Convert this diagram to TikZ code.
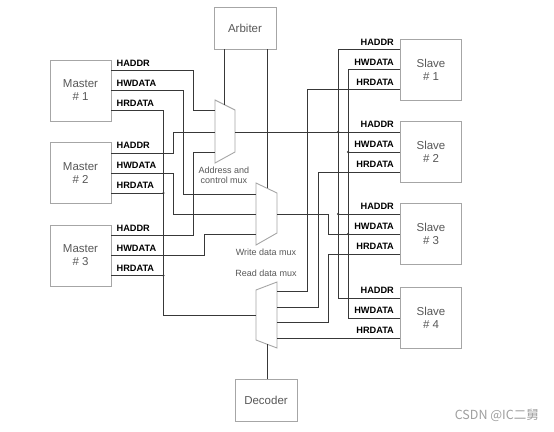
\documentclass[tikz,border=0pt]{standalone}
\usepackage{fontspec}
\setmainfont{Liberation Sans}
\newfontfamily\cjkfont{Noto Sans CJK SC}
\usepackage{xcolor}
\usepackage{tikz}
\usetikzlibrary{calc}
\definecolor{boxgray}{HTML}{A6A6A6}
\definecolor{wirecol}{HTML}{383838}
\definecolor{txtgray}{HTML}{585858}
\tikzset{
	unit/.style={draw=boxgray, line width=0.9pt, minimum width=61pt, minimum height=61pt, inner sep=0pt, text=txtgray, align=center, font=\fontsize{11.5}{13}\selectfont},
	ctrl/.style={unit, minimum width=62pt, minimum height=42pt},
	sig/.style={font=\fontsize{9.2}{10}\selectfont\bfseries, inner sep=0pt},
	muxbox/.style={draw=boxgray, line width=0.9pt, fill=white},
	muxlbl/.style={font=\fontsize{9}{10}\selectfont, text=txtgray, align=center, inner sep=0pt},
	wire/.style={draw=wirecol, line width=0.8pt},
	jn/.style={circle, fill=wirecol, inner sep=0pt, minimum size=2.4pt}
}
\begin{document}
\begin{tikzpicture}[x=1pt, y=-1pt]
			\useasboundingbox[fill=white] (0,0) rectangle (554,431);
			\node[unit] (m1) at (80.5,90.5) {Master\\\# 1};
			\node[unit] (m2) at (80.5,173) {Master\\\# 2};
			\node[unit] (m3) at (80.5,255.5) {Master\\\# 3};
			\node[unit] (s1) at (431,69.5) {Slave\\\# 1};
			\node[unit] (s2) at (431,152) {Slave\\\# 2};
			\node[unit] (s3) at (431,234) {Slave\\\# 3};
			\node[unit] (s4) at (431,318) {Slave\\\# 4};
			\node[ctrl] (arb) at (245,28) {Arbiter};
			\node[ctrl] (dec) at (266,400) {Decoder};
			% bus ports and their labels
			\foreach \n in {m1,m2,m3} {
				\coordinate (\n-a) at ([yshift=20pt]\n.east);
				\coordinate (\n-w) at (\n.east);
				\coordinate (\n-r) at ([yshift=-20pt]\n.east);
				\node[sig, anchor=base west] (\n-la) at ([xshift=5pt, yshift=4.5pt]\n-a) {HADDR};
				\node[sig, anchor=base west] (\n-lw) at ([xshift=5pt, yshift=4.5pt]\n-w) {HWDATA};
				\node[sig, anchor=base west] (\n-lr) at ([xshift=5pt, yshift=4.5pt]\n-r) {HRDATA};
			}
			\foreach \n in {s1,s2,s3,s4} {
				\coordinate (\n-a) at ([yshift=20pt]\n.west);
				\coordinate (\n-w) at (\n.west);
				\coordinate (\n-r) at ([yshift=-20pt]\n.west);
				\node[sig, anchor=base east] (\n-la) at ([xshift=-6pt, yshift=4.5pt]\n-a) {HADDR};
				\node[sig, anchor=base east] (\n-lw) at ([xshift=-6pt, yshift=4.5pt]\n-w) {HWDATA};
				\node[sig, anchor=base east] (\n-lr) at ([xshift=-6pt, yshift=4.5pt]\n-r) {HRDATA};
			}
			% muxes
			\draw[muxbox] (215,100) -- (235,110) -- (235,152) -- (215,163) -- cycle;
			\coordinate (am1) at (215,110.5);
			\coordinate (am2) at (215,132);
			\coordinate (am3) at (215,152);
			\coordinate (amo) at (235,132);
			\coordinate (ams) at (224,104.5);
			\draw[muxbox] (256,183) -- (277,193) -- (277,233) -- (256,245) -- cycle;
			\coordinate (wm1) at (256,194);
			\coordinate (wm2) at (256,214);
			\coordinate (wm3) at (256,234);
			\coordinate (wmo) at (277,214);
			\coordinate (wms) at (267,188.2);
			\draw[muxbox] (256,290) -- (277,282) -- (277,348) -- (256,340) -- cycle;
			\coordinate (rmo) at (256,315);
			\coordinate (rm1) at (277,291);
			\coordinate (rm2) at (277,307);
			\coordinate (rm3) at (277,322);
			\coordinate (rm4) at (277,338);
			\coordinate (rms) at (267,344.2);
			\node[muxlbl] (amlbl) at (224,175) {Address and\\control mux};
			\node[muxlbl] (wmlbl) at (266,252) {Write data mux};
			\node[muxlbl] (rmlbl) at (266,273) {Read data mux};
			% master side
			\draw[wire] (m1-a) -- ++(82,0) |- (am1);
			\draw[wire] (m1-w) -- ++(72,0) |- (wm1);
			\draw[wire] (m1-r) -- ++(52,0) |- (rmo);
			\draw[wire] (m2-a) -- ++(62,0) |- (am2);
			\draw[wire] (m2-w) -- ++(62,0) |- (wm2);
			\draw[wire] (m2-r) -- ++(52,0) node[jn] (j1) {};
			\draw[wire] (m3-a) -- ++(82,0) |- (am3);
			\draw[wire] (m3-w) -- ++(93,0) |- (wm3);
			\draw[wire] (m3-r) -- ++(52,0) node[jn] (j2) {};
			% arbiter and decoder
			\draw[wire] (ams) -- (ams |- arb.south);
			\draw[wire] (wms) -- (wms |- arb.south);
			\draw[wire] (rms) -- (rms |- dec.north);
			% slave side
			\draw[wire] (s1-a) -- ++(-62,0) |- (s4-a);
			\draw[wire] (amo) -- (s2-a);
			\node[jn] (j3) at ([xshift=-62pt]s2-a) {};
			\draw[wire] (s3-a) -- ++(-62,0) node[jn] (j4) {};
			\draw[wire] (s1-w) -- ++(-52,0) |- (s4-w);
			\draw[wire] (s2-w) -- ++(-52,0) node[jn] (j5) {};
			\draw[wire] (wmo) -- ++(51,0) |- (s3-w);
			\node[jn] (j6) at ([xshift=-52pt]s3-w) {};
			\draw[wire] (s1-r) -- ++(-93,0) |- (rm1);
			\draw[wire] (s2-r) -- ++(-82,0) |- (rm2);
			\draw[wire] (s3-r) -- ++(-72,0) |- (rm3);
			\draw[wire] (s4-r) -- (rm4);
			\node[font=\cjkfont\fontsize{12.5}{14}\selectfont, text=gray!75, anchor=east, inner sep=0pt] (wmark) at (539,415) {CSDN @IC二舅};
		\end{tikzpicture}
\end{document}
